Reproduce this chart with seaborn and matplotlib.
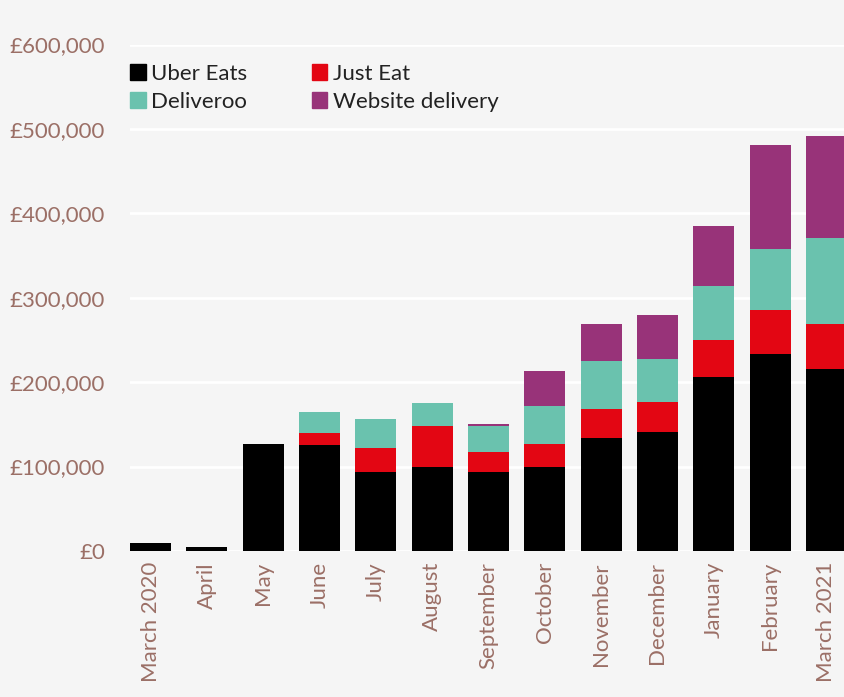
import matplotlib
matplotlib.use("Agg")
import matplotlib.pyplot as plt
from matplotlib.patches import Patch
from matplotlib.ticker import FuncFormatter
import seaborn as sns
import numpy as np
import pandas as pd

months = ["March 2020", "April", "May", "June", "July", "August", "September",
          "October", "November", "December", "January", "February", "March 2021"]
uber_eats = [9400, 4700, 126900, 125700, 93400, 99300, 93400, 99300, 133700, 140800, 206000, 233400, 215500]
just_eat = [0, 0, 0, 14200, 28500, 48700, 23900, 27600, 34400, 35600, 43900, 52200, 53400]
deliveroo = [0, 0, 0, 24900, 34400, 27400, 30700, 45000, 56900, 51000, 64100, 72400, 102100]
website = [0, 0, 0, 0, 0, 0, 2400, 41100, 44000, 52200, 71200, 123500, 121000]

series_names = ["Uber Eats", "Just Eat", "Deliveroo", "Website delivery"]
colors = {"Uber Eats": "#000000", "Just Eat": "#e30613",
          "Deliveroo": "#6ac2ae", "Website delivery": "#983379"}

bg = "#f5f5f5"
tick_color = "#9b6f66"

sns.set_theme(style="white")
plt.rcParams["font.family"] = ["Lato", "DejaVu Sans"]
plt.rcParams["font.weight"] = "normal"

fig = plt.figure(figsize=(8.45, 6.97), dpi=100, facecolor=bg)
ax = fig.add_axes([130 / 845, (697 - 551) / 697, 715 / 845, 506.5 / 697])
ax.set_facecolor(bg)

values = np.array([uber_eats, just_eat, deliveroo, website], dtype=float)
cum = np.cumsum(values, axis=0)

# draw cumulative stacks from tallest to shortest so each layer shows
for i in range(3, -1, -1):
    df = pd.DataFrame({"month": months, "value": cum[i]})
    sns.barplot(data=df, x="month", y="value", color=colors[series_names[i]],
                saturation=1, width=0.73, ax=ax, zorder=3, linewidth=0)

ax.set_ylim(0, 600000)
ax.set_xlim(-0.364, 12.33)
ax.set_yticks(np.arange(0, 600001, 100000))
ax.yaxis.set_major_formatter(FuncFormatter(lambda v, p: f"£{v:,.0f}"))
ax.grid(axis="y", color="white", linewidth=2, zorder=0)
ax.grid(axis="x", visible=False)
ax.set_axisbelow(True)
for s in ax.spines.values():
    s.set_visible(False)
ax.set_xlabel("")
ax.set_ylabel("")
ax.tick_params(axis="y", length=0, pad=18, labelsize=16, labelcolor=tick_color)
ax.tick_params(axis="x", length=0, pad=8, labelsize=16, labelcolor=tick_color)
for lab in ax.get_xticklabels():
    lab.set_rotation(90)

handles = [Patch(color=colors[n], label=n) for n in ["Uber Eats", "Deliveroo", "Just Eat", "Website delivery"]]
ax.legend(handles=handles, ncol=2, loc="upper left", bbox_to_anchor=(0.0, 0.962),
          frameon=False, fontsize=16, borderpad=0, borderaxespad=0,
          handlelength=0.7, handleheight=0.7, handletextpad=0.25,
          columnspacing=2.9, labelspacing=0.35, labelcolor="#222222")

fig.savefig("out.png", dpi=100, facecolor=bg)
